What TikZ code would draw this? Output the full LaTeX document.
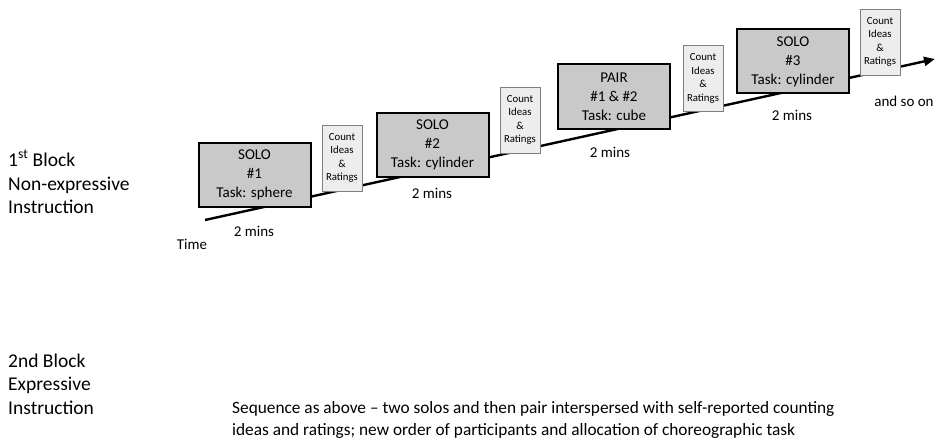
\documentclass[tikz,border=0pt]{standalone}
\usepackage{fontspec}
\setmainfont{Carlito}
\usetikzlibrary{arrows.meta}
\definecolor{boxgray}{HTML}{C9C9C9}
\definecolor{cntgray}{HTML}{EDEDED}
\definecolor{cntedge}{HTML}{7F7F7F}
\tikzset{
  taskbox/.style={draw=black, line width=2pt, fill=boxgray, minimum width=112pt, minimum height=64pt, inner sep=0pt, align=center, font=\fontsize{15}{19}\selectfont},
  countbox/.style={draw=cntedge, line width=0.8pt, fill=cntgray, minimum width=40pt, minimum height=66pt, inner sep=0pt, align=center, font=\fontsize{10.8}{13.5}\selectfont},
  lbl/.style={inner sep=0pt, font=\fontsize{15}{18}\selectfont},
  bigtxt/.style={inner sep=0pt, align=left, font=\fontsize{19.5}{23.5}\selectfont},
  seqtxt/.style={inner sep=0pt, align=left, font=\fontsize{17.3}{22}\selectfont},
  timeline/.style={line width=2.4pt, -{Triangle[length=11pt,width=9pt]}}
}
\begin{document}
\begin{tikzpicture}[x=1pt,y=-1pt]
\useasboundingbox (0,0) rectangle (935,444);
\coordinate (ts) at (205,220);
\coordinate (te) at (935,59);
\draw[timeline] (ts) -- (te);
\node[taskbox] (s1) at (254.5,175) {SOLO\\\#1\\Task: sphere};
\node[countbox] (c1) at (342,158) {Count\\Ideas\\\&\\Ratings};
\node[taskbox] (s2) at (432.5,145) {SOLO\\\#2\\Task: cylinder};
\node[countbox] (c2) at (520,120) {Count\\Ideas\\\&\\Ratings};
\node[taskbox] (p1) at (614,96.5) {PAIR\\\#1 \& \#2\\Task: cube};
\node[countbox] (c3) at (703,78.5) {Count\\Ideas\\\&\\Ratings};
\node[taskbox] (s3) at (793,61.5) {SOLO\\\#3\\Task: cylinder};
\node[countbox] (c4) at (880,42) {Count\\Ideas\\\&\\Ratings};
\node[lbl] (m1) at (254,231) {2 mins};
\node[lbl] (m2) at (432,193) {2 mins};
\node[lbl] (m3) at (610,152) {2 mins};
\node[lbl] (m4) at (792,115) {2 mins};
\node[lbl] (so) at (904,101) {and so on};
\node[lbl] (tm) at (192,244) {Time};
\node[bigtxt, anchor=west] (b1) at (8,182) {1\textsuperscript{st} Block\\Non-expressive\\Instruction};
\node[bigtxt, anchor=west] (b2) at (8,384) {2nd Block\\Expressive\\Instruction};
\node[seqtxt, anchor=west] (sq) at (232,420) {Sequence as above -- two solos and then pair interspersed with self-reported counting\\ideas and ratings; new order of participants and allocation of choreographic task};
\end{tikzpicture}
\end{document}
